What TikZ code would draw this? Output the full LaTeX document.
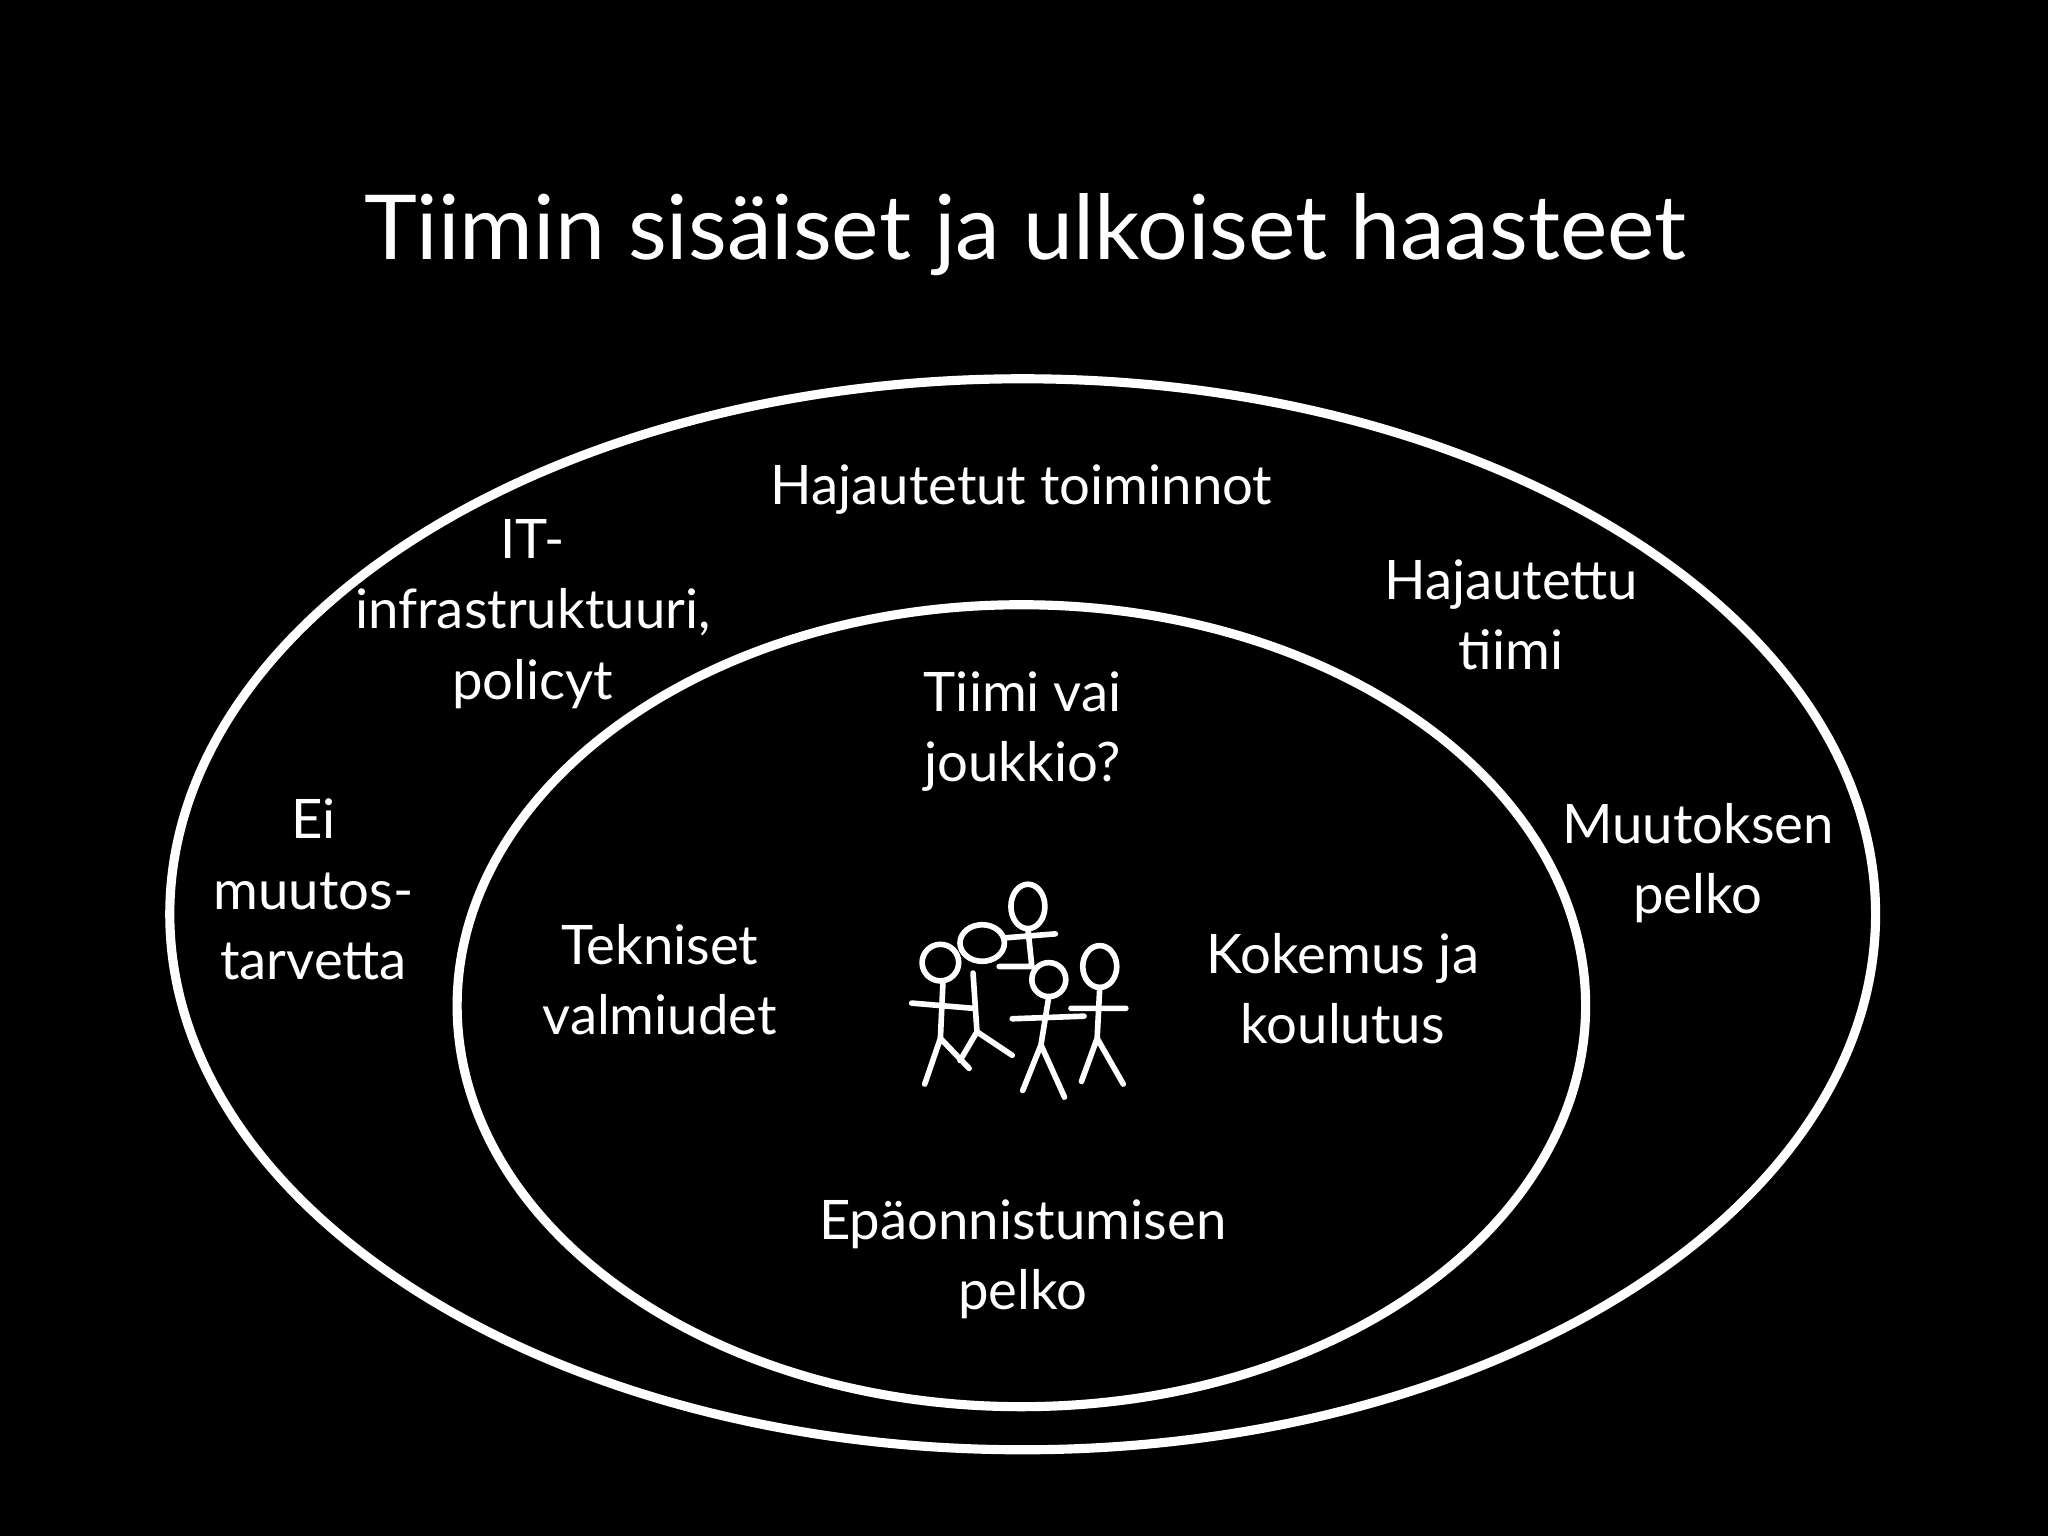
\documentclass[tikz,border=0pt]{standalone}
\usepackage{fontspec}
\setmainfont{Lato}
\begin{document}
\begin{tikzpicture}[x=0.013061cm,y=-0.013061cm,
  lbl/.style={text=white,font=\fontsize{15.5pt}{20pt}\selectfont,align=center},
  ring/.style={draw=white,line width=2.6pt},
  stick/.style={draw=white,line width=1.6pt,line cap=round}]
\fill[black] (0,0) rectangle (1568,1176);
\useasboundingbox (0,0) rectangle (1568,1176);
\node[text=white,font=\fontsize{25.5pt}{30pt}\selectfont] (title) at (785,180) {Tiimin sisäiset ja ulkoiset haasteet};
\draw[ring] (783,700) ellipse [x radius=653, y radius=410];
\draw[ring] (782,770) ellipse [x radius=432, y radius=307];
\node[lbl] (a) at (782,375) {Hajautetut toiminnot};
\node[lbl] (b) at (408,470) {IT-\\infrastruktuuri,\\policyt};
\node[lbl] (c) at (1157,471) {Hajautettu\\tiimi};
\node[lbl] (d) at (240,681) {Ei\\muutos-\\tarvetta};
\node[lbl] (e) at (1300,661) {Muutoksen\\pelko};
\node[lbl] (f) at (783,560) {Tiimi vai\\joukkio?};
\node[lbl] (g) at (505,750) {Tekniset\\valmiudet};
\node[lbl] (h) at (1028,757) {Kokemus ja\\koulutus};
\node[lbl] (i) at (783,964) {Epäonnistumisen\\pelko};
% stick figures
\draw[stick] (720,737) circle [radius=14];
\draw[stick] (752,722) ellipse [x radius=17, y radius=14];
\draw[stick] (787,694) ellipse [x radius=13, y radius=17];
\draw[stick] (803,750) circle [radius=13];
\draw[stick] (842,740) ellipse [x radius=13, y radius=16];
\draw[stick] (722,751) -- (720,795) (720,795) -- (708,830) (720,795) -- (742,818)
  (698,768) -- (745,772) (745,745) -- (748,790) (748,790) -- (735,812) (748,790) -- (775,808);
\draw[stick] (787,711) -- (790,740) (770,718) -- (808,715) (790,740) -- (765,740);
\draw[stick] (803,763) -- (797,800) (797,800) -- (783,835) (797,800) -- (815,840)
  (775,780) -- (830,778);
\draw[stick] (842,756) -- (840,795) (840,795) -- (828,828) (840,795) -- (860,830)
  (820,772) -- (862,772);
\end{tikzpicture}
\end{document}
